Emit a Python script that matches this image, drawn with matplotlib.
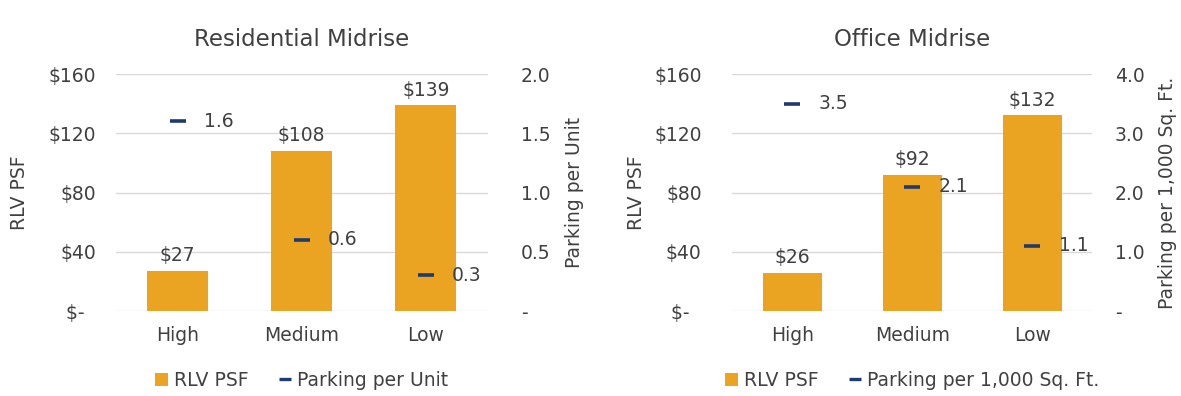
import matplotlib.pyplot as plt
from matplotlib.lines import Line2D
from matplotlib.patches import Patch

categories = ["High", "Medium", "Low"]

res_rlv = [27, 108, 139]
res_parking = [1.6, 0.6, 0.3]

off_rlv = [26, 92, 132]
off_parking = [3.5, 2.1, 1.1]

rlv_ticks = [0, 40, 80, 120, 160]
rlv_ticklabels = ["$-  ", "$40", "$80", "$120", "$160"]
res_park_ticks = [0, 0.5, 1.0, 1.5, 2.0]
res_park_ticklabels = ["-", "0.5", "1.0", "1.5", "2.0"]
off_park_ticks = [0, 1.0, 2.0, 3.0, 4.0]
off_park_ticklabels = ["-", "1.0", "2.0", "3.0", "4.0"]

BAR = "#EBA421"
DASH = "#1F3A6E"
TEXT = "#404040"
GRID = "#D9D9D9"
FS = 13.5

plt.rcParams["font.family"] = "DejaVu Sans"

fig = plt.figure(figsize=(11.81, 3.96), dpi=100)


def panel(rect, title, rlv, parking, park_max, park_ticks, park_labels, park_title, legend_name,
          lpad, rpad, ylpad):
    ax = fig.add_axes(rect)
    x = range(len(categories))
    ax.bar(x, rlv, width=0.49, color=BAR, zorder=2)
    for xi, v in zip(x, rlv):
        ax.annotate(f"${v}", (xi, v), xytext=(0, 4), textcoords="offset points",
                    ha="center", va="bottom", fontsize=FS, color=TEXT)
    ax.set_ylim(0, 160)
    ax.set_xlim(-0.5, 2.5)
    ax.set_yticks(rlv_ticks)
    ax.set_yticklabels(rlv_ticklabels)
    ax.set_xticks(list(x))
    ax.set_xticklabels(categories)
    ax.grid(axis="y", color=GRID, linewidth=1, zorder=0)
    for s in ax.spines.values():
        s.set_visible(False)
    ax.tick_params(axis="y", length=0, pad=lpad, labelsize=FS, colors=TEXT)
    ax.tick_params(axis="x", length=0, pad=11, labelsize=FS, colors=TEXT)
    ax.set_ylabel("RLV PSF", fontsize=FS, color=TEXT, labelpad=ylpad)
    ax.set_title(title, fontsize=16.5, color=TEXT, pad=20)

    ax2 = ax.twinx()
    ax2.plot(list(x), parking, linestyle="none", marker="_", markersize=12,
             markeredgewidth=2.6, color=DASH, zorder=3)
    for xi, v in zip(x, parking):
        ax2.annotate(f"{v:.1f}", (xi, v), xytext=(19, 0), textcoords="offset points",
                     ha="left", va="center", fontsize=FS, color=TEXT)
    ax2.set_ylim(0, park_max)
    ax2.set_yticks(park_ticks)
    ax2.set_yticklabels(park_labels)
    for s in ax2.spines.values():
        s.set_visible(False)
    ax2.tick_params(axis="y", length=0, pad=rpad, labelsize=FS, colors=TEXT)
    ax2.set_ylabel(park_title, fontsize=FS, color=TEXT, labelpad=10)

    handles = [Patch(facecolor=BAR, edgecolor="none"),
               Line2D([], [], linestyle="none", marker="_", markersize=9,
                      markeredgewidth=2.4, color=DASH)]
    cx = rect[0] + rect[2] / 2
    fig.legend(handles, ["RLV PSF", legend_name], loc="center", bbox_to_anchor=(cx, 0.04),
               ncol=2, frameon=False, fontsize=FS, labelcolor=TEXT,
               handlelength=0.7, handleheight=0.7, handletextpad=0.3, columnspacing=1.6)
    return ax, ax2


panel([0.098, 0.2146, 0.315, 0.5985], "Residential Midrise", res_rlv, res_parking, 2.0,
      res_park_ticks, res_park_ticklabels, "Parking per Unit", "Parking per Unit", 14, 24, 14)
panel([0.620, 0.2146, 0.305, 0.5985], "Office Midrise", off_rlv, off_parking, 4.0,
      off_park_ticks, off_park_ticklabels, "Parking per 1,000 Sq. Ft.",
      "Parking per 1,000 Sq. Ft.", 22, 16, 6)

fig.savefig("out.png", dpi=100, facecolor="white")
